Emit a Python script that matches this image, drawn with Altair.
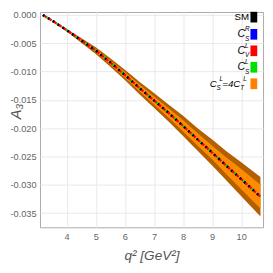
import altair as alt
import pandas as pd

# ---- data ----
q2 = [3.18, 3.5, 4.0, 4.5, 5.0, 5.5, 6.0, 6.5, 7.0, 7.5, 8.0, 8.5, 9.0, 9.5, 10.0, 10.66]
sm = [0.0, -0.0010, -0.0027, -0.0045, -0.0063, -0.0084, -0.0106, -0.0129, -0.0151,
      -0.0173, -0.0196, -0.0220, -0.0243, -0.0267, -0.0290, -0.0321]
cs_r = [0.0, -0.0010, -0.0027, -0.0045, -0.0063, -0.0084, -0.0106, -0.0129, -0.0151,
        -0.0173, -0.0196, -0.0220, -0.0243, -0.0267, -0.0290, -0.0321]
cv_l = [0.0, -0.0010, -0.0027, -0.0045, -0.0063, -0.0084, -0.0106, -0.0129, -0.0151,
        -0.0173, -0.0196, -0.0220, -0.0243, -0.0267, -0.0290, -0.0321]
cs_l = [0.0, -0.0010, -0.0027, -0.0045, -0.0063, -0.0084, -0.0106, -0.0129, -0.0151,
        -0.0173, -0.0196, -0.0220, -0.0243, -0.0267, -0.0290, -0.0321]
dark_hi = [0.0, -0.00095, -0.0025, -0.0041, -0.0057, -0.00765, -0.0097, -0.0118, -0.0138,
           -0.0158, -0.0178, -0.0200, -0.0220, -0.0241, -0.0260, -0.0286]
dark_lo = [0.0, -0.00105, -0.0029, -0.0049, -0.0069, -0.00915, -0.0115, -0.0140, -0.0164,
           -0.0188, -0.0214, -0.0240, -0.0266, -0.0293, -0.0320, -0.0356]
light_hi = [0.0, -0.00098, -0.0026, -0.0043, -0.0060, -0.0080, -0.0101, -0.0123, -0.0144,
            -0.0165, -0.0186, -0.0209, -0.0231, -0.0252, -0.0272, -0.0300]
light_lo = [0.0, -0.00102, -0.0028, -0.0047, -0.0066, -0.0088, -0.0111, -0.0135, -0.0158,
            -0.0181, -0.0206, -0.0231, -0.0255, -0.0282, -0.0308, -0.0342]

x_ticks = [4, 5, 6, 7, 8, 9, 10]
y_ticks = [0.0, -0.005, -0.010, -0.015, -0.020, -0.025, -0.030, -0.035]

df = pd.DataFrame({"q2": q2, "sm": sm, "cs_r": cs_r, "cv_l": cv_l, "cs_l": cs_l,
                   "dark_hi": dark_hi, "dark_lo": dark_lo,
                   "light_hi": light_hi, "light_lo": light_lo})

FONT = "Liberation Sans Narrow, Liberation Sans, sans-serif"

xs = alt.Scale(domain=[3.083, 10.75], nice=False, zero=False)
ys = alt.Scale(domain=[-0.0375, 0.00051], nice=False, zero=False)

x_axis = alt.Axis(
    values=x_ticks, format="d", labelPadding=5, labelOverlap=False,
    title="q² [GeV²]", titleFontStyle="italic", titleFontSize=14, titleColor="#555555",
    titleFont="Liberation Sans", titleFontWeight="normal", titlePadding=8)

y_axis = alt.Axis(
    values=y_ticks, labelExpr="replace(format(datum.value, '.3f'), '\u2212', '-')",
    labelPadding=4, labelOverlap=False, title="A₃", titleFontStyle="italic", titleFontSize=15,
    titleColor="#555555", titleFont="Liberation Sans", titleFontWeight="normal",
    titleX=-25, titleY=102, titleAngle=270, titleBaseline="middle")

def X():
    return alt.X("q2:Q", scale=xs, axis=x_axis)

def Y(col):
    return alt.Y(f"{col}:Q", scale=ys, axis=y_axis)

base = alt.Chart(df)

dark = base.mark_area(color="#B35F00", opacity=1).encode(
    x=X(), y=Y("dark_lo"), y2="dark_hi:Q")
light = base.mark_area(color="#FF8C00", opacity=1).encode(
    x=X(), y=Y("light_lo"), y2="light_hi:Q")

def dline(col, color, dash, offset, w=2.4):
    return base.mark_line(color=color, strokeWidth=w, strokeDash=dash,
                          strokeDashOffset=offset).encode(x=X(), y=Y(col))

l_blue = dline("cs_r", "#0000FF", [2, 4], 0)
l_black = dline("sm", "#000000", [2, 4], 0)
l_red = dline("cv_l", "#FF0000", [2.5, 3.5], 4)
l_green = dline("cs_l", "#00E000", [1.5, 10.5], 7.5)

# ---- manual legend (plot-area pixel positions) ----
one = pd.DataFrame({"a": [0]})
leg = []
sw_colors = ["#000000", "#0000FF", "#FF0000", "#00E000", "#FF8000"]
centers = [5.3, 23, 40, 57, 74]
for c, cy in zip(sw_colors, centers):
    leg.append(alt.Chart(one).mark_rect(color=c).encode(
        x=alt.value(217), x2=alt.value(224), y=alt.value(cy - 5.5), y2=alt.value(cy + 5.5)))

def txt(s, x, y, size, align="left", italic=True):
    return alt.Chart(one).mark_text(text=s, align=align, baseline="middle", fontSize=size,
                                    font=FONT, fontStyle="italic" if italic else "normal",
                                    color="#000000").encode(x=alt.value(x), y=alt.value(y))

leg.append(txt("SM", 215.5, centers[0], 10, align="right", italic=False))
for cy, sup, sub in [(centers[1], "R", "S"), (centers[2], "L", "V"), (centers[3], "L", "S")]:
    leg.append(txt("C", 211.5, cy, 11, align="right"))
    leg.append(txt(sup, 211.5, cy - 5, 6.5))
    leg.append(txt(sub, 211.5, cy + 4.5, 6.5))
cy = centers[4]
leg.append(txt("C", 175, cy, 10))
leg.append(txt("S", 182, cy + 4.5, 6.5))
leg.append(txt("L", 185, cy - 5, 6.5))
leg.append(txt("=4C", 188, cy, 10))
leg.append(txt("T", 206.5, cy + 4.5, 6.5))
leg.append(txt("L", 209.5, cy - 5, 6.5))

chart = alt.layer(dark, light, l_blue, l_black, l_red, l_green, *leg).properties(
    width=230, height=222,
    autosize=alt.AutoSizeParams(type="none"),
    padding={"left": 33, "top": 0, "right": 2, "bottom": 43},
).configure_view(stroke="#a8a8a8", strokeWidth=1).configure_axis(
    grid=True, gridColor="#e8e8e8", domain=False, ticks=False,
    labelColor="#666666", labelFont=FONT, labelFontSize=9.5)

chart.save("out.html", embed_options={"renderer": "svg", "actions": False})
